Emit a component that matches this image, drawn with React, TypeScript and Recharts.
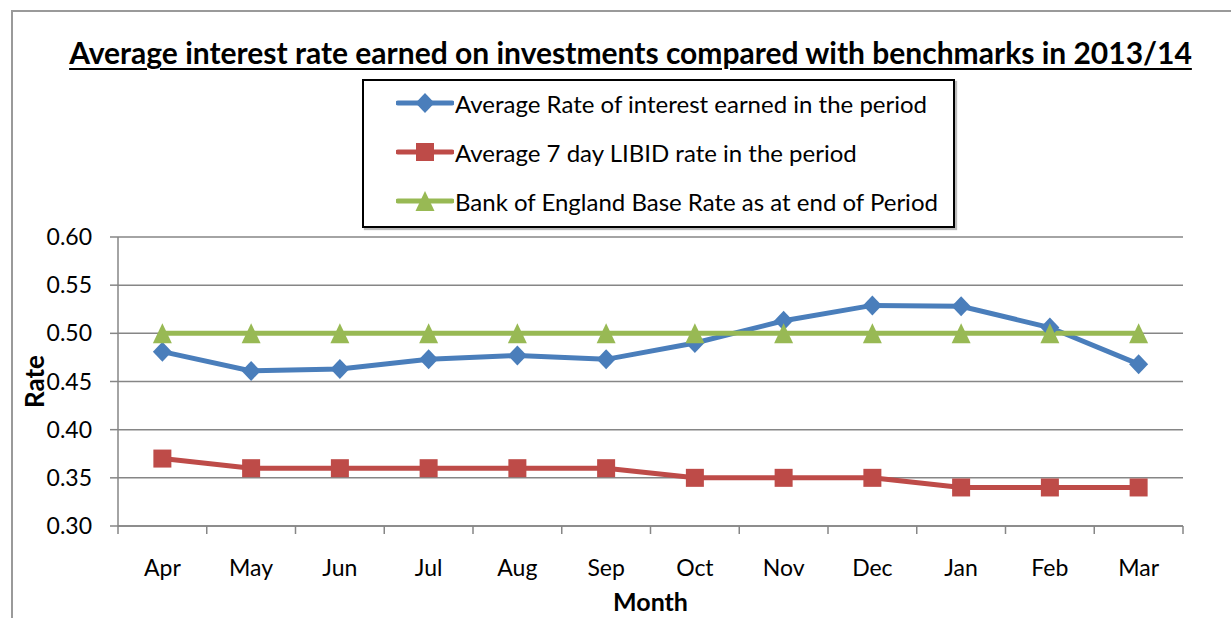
import { LineChart, Line, XAxis, YAxis, CartesianGrid } from 'recharts'

document.body.style.margin = '0'

const MONTHS = ['Apr', 'May', 'Jun', 'Jul', 'Aug', 'Sep', 'Oct', 'Nov', 'Dec', 'Jan', 'Feb', 'Mar']
const AVG_RATE = [0.481, 0.461, 0.463, 0.473, 0.477, 0.473, 0.49, 0.513, 0.529, 0.528, 0.506, 0.468]
const LIBID_7DAY = [0.37, 0.36, 0.36, 0.36, 0.36, 0.36, 0.35, 0.35, 0.35, 0.34, 0.34, 0.34]
const BASE_RATE = [0.5, 0.5, 0.5, 0.5, 0.5, 0.5, 0.5, 0.5, 0.5, 0.5, 0.5, 0.5]
const Y_TICKS = [0.3, 0.35, 0.4, 0.45, 0.5, 0.55, 0.6]

const SERIES = [
  { key: 'avg', name: 'Average Rate of interest earned in the period', color: '#4A7EBB', shape: 'diamond' },
  { key: 'libid', name: 'Average 7 day LIBID rate in the period', color: '#BE4B48', shape: 'square' },
  { key: 'base', name: 'Bank of England Base Rate as at end of Period', color: '#98B954', shape: 'triangle' },
]

const data = MONTHS.map((m, i) => ({
  month: m,
  avg: AVG_RATE[i],
  libid: LIBID_7DAY[i],
  base: BASE_RATE[i],
}))

const FONT = 'Lato, "Open Sans", sans-serif'
const AXIS_GREY = '#868686'
const W = 1231
const H = 618
const M = { top: 237, right: 48, left: 0, bottom: 0 }
const Y_AXIS_W = 118
const X_AXIS_H = 92
const STEP = (W - M.right - Y_AXIS_W) / MONTHS.length

function Marker({ shape, cx, cy, color }: { shape: string; cx: number; cy: number; color: string }) {
  if (shape === 'diamond') {
    return <polygon points={`${cx},${cy - 10} ${cx + 9.5},${cy} ${cx},${cy + 10} ${cx - 9.5},${cy}`} fill={color} />
  }
  if (shape === 'square') {
    return <rect x={cx - 9} y={cy - 9} width={18} height={18} fill={color} />
  }
  return <polygon points={`${cx},${cy - 10} ${cx + 9.5},${cy + 10} ${cx - 9.5},${cy + 10}`} fill={color} />
}

function MonthTick(props: any) {
  const { x, y, payload, index } = props
  const last = index === MONTHS.length - 1
  return (
    <g>
      <line x1={x - STEP / 2} x2={x - STEP / 2} y1={y} y2={y + 8} stroke={AXIS_GREY} strokeWidth={1.5} />
      {last && <line x1={x + STEP / 2} x2={x + STEP / 2} y1={y} y2={y + 8} stroke={AXIS_GREY} strokeWidth={1.5} />}
      <text x={x} y={y + 50} textAnchor="middle" fontSize={23} fontFamily={FONT} fill="#000">
        {payload.value}
      </text>
    </g>
  )
}

function Legend() {
  return (
    <div
      style={{
        position: 'absolute',
        left: 362,
        top: 79,
        width: 589,
        height: 145,
        border: '2px solid #000',
        boxShadow: '2px 2px 1px #bbb',
        background: '#fff',
        fontFamily: FONT,
        fontSize: 24,
      }}
    >
      {SERIES.map((s, i) => (
        <div key={s.key} style={{ position: 'absolute', left: 32, top: 8 + i * 49, height: 28, display: 'flex', alignItems: 'center' }}>
          <svg width={58} height={28}>
            <line x1={2} x2={56} y1={14} y2={14} stroke={s.color} strokeWidth={5} strokeLinecap="round" />
            <Marker shape={s.shape} cx={29} cy={14} color={s.color} />
          </svg>
          <span style={{ marginLeft: 1, whiteSpace: 'nowrap' }}>{s.name}</span>
        </div>
      ))}
    </div>
  )
}

export default function App() {
  return (
    <div style={{ position: 'relative', width: W, height: H, background: '#fff' }}>
      <div
        style={{
          position: 'absolute',
          left: 11,
          top: 10,
          right: 0,
          bottom: 0,
          borderLeft: '2px solid #9a9a9a',
          borderTop: '2px solid #9a9a9a',
        }}
      />
      <div
        style={{
          position: 'absolute',
          left: 0,
          top: 34,
          width: 1261,
          textAlign: 'center',
          fontFamily: FONT,
          fontWeight: 'bold',
          fontSize: 30,
          textDecoration: 'underline',
          textDecorationThickness: 2,
          textUnderlineOffset: 4,
        }}
      >
        Average interest rate earned on investments compared with benchmarks in 2013/14
      </div>
      <LineChart width={W} height={H} data={data} margin={M} style={{ position: 'absolute', left: 0, top: 0 }}>
        <CartesianGrid vertical={false} stroke={AXIS_GREY} strokeWidth={1.5} />
        <XAxis
          dataKey="month"
          height={X_AXIS_H}
          padding={{ left: STEP / 2, right: STEP / 2 }}
          axisLine={{ stroke: AXIS_GREY, strokeWidth: 1.5 }}
          tickLine={false}
          tickSize={0}
          tickMargin={0}
          interval={0}
          tick={<MonthTick />}
          label={{
            content: ({ viewBox }: any) => (
              <text
                x={viewBox.x + viewBox.width / 2}
                y={viewBox.y + 85}
                textAnchor="middle"
                fontFamily={FONT}
                fontWeight="bold"
                fontSize={25}
              >
                Month
              </text>
            ),
          }}
        />
        <YAxis
          width={Y_AXIS_W}
          domain={[0.3, 0.6]}
          ticks={Y_TICKS}
          tickFormatter={(v: number) => v.toFixed(2)}
          axisLine={{ stroke: AXIS_GREY, strokeWidth: 1.5 }}
          tickLine={{ stroke: AXIS_GREY, strokeWidth: 1.5 }}
          tickSize={8}
          tickMargin={18}
          tick={{ fill: '#000', fontSize: 23, fontFamily: FONT }}
          label={{
            content: ({ viewBox }: any) => (
              <text
                x={viewBox.x + 44}
                y={viewBox.y + viewBox.height / 2}
                textAnchor="middle"
                fontFamily={FONT}
                fontWeight="bold"
                fontSize={26}
                transform={`rotate(-90 ${viewBox.x + 44} ${viewBox.y + viewBox.height / 2})`}
              >
                Rate
              </text>
            ),
          }}
        />
        {SERIES.map((s) => (
          <Line
            key={s.key}
            dataKey={s.key}
            name={s.name}
            stroke={s.color}
            strokeWidth={5}
            isAnimationActive={false}
            dot={(p: any) => <Marker key={`${s.key}-${p.index}`} shape={s.shape} cx={p.cx} cy={p.cy} color={s.color} />}
            activeDot={false}
          />
        ))}
      </LineChart>
      <Legend />
    </div>
  )
}
